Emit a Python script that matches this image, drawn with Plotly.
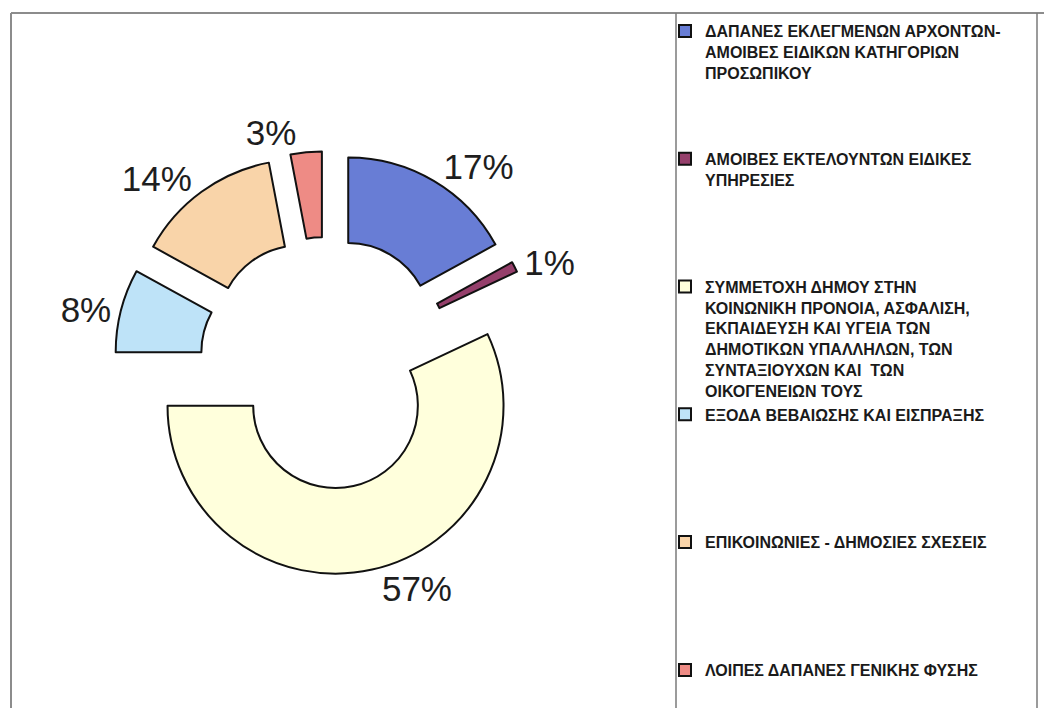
import plotly.graph_objects as go

# ---- data ----
labels = [
    "ΔΑΠΑΝΕΣ ΕΚΛΕΓΜΕΝΩΝ ΑΡΧΟΝΤΩΝ-<br>ΑΜΟΙΒΕΣ ΕΙΔΙΚΩΝ ΚΑΤΗΓΟΡΙΩΝ<br>ΠΡΟΣΩΠΙΚΟΥ",
    "ΑΜΟΙΒΕΣ ΕΚΤΕΛΟΥΝΤΩΝ ΕΙΔΙΚΕΣ<br>ΥΠΗΡΕΣΙΕΣ",
    "ΣΥΜΜΕΤΟΧΗ ΔΗΜΟΥ ΣΤΗΝ<br>ΚΟΙΝΩΝΙΚΗ ΠΡΟΝΟΙΑ, ΑΣΦΑΛΙΣΗ,<br>ΕΚΠΑΙΔΕΥΣΗ ΚΑΙ ΥΓΕΙΑ ΤΩΝ<br>ΔΗΜΟΤΙΚΩΝ ΥΠΑΛΛΗΛΩΝ, ΤΩΝ<br>ΣΥΝΤΑΞΙΟΥΧΩΝ ΚΑΙ  ΤΩΝ<br>ΟΙΚΟΓΕΝΕΙΩΝ ΤΟΥΣ",
    "ΕΞΟΔΑ ΒΕΒΑΙΩΣΗΣ ΚΑΙ ΕΙΣΠΡΑΞΗΣ",
    "ΕΠΙΚΟΙΝΩΝΙΕΣ - ΔΗΜΟΣΙΕΣ ΣΧΕΣΕΙΣ",
    "ΛΟΙΠΕΣ ΔΑΠΑΝΕΣ ΓΕΝΙΚΗΣ ΦΥΣΗΣ",
]
values = [17, 1, 57, 8, 14, 3]
colors = ["#687DD5", "#953F6B", "#FFFFDC", "#BEE3F8", "#F9D4A9", "#EE8B85"]

# pad legend entries (except the last) to equal height (6 lines each)
LINES = 6
legend_labels = []
for i, lab in enumerate(labels):
    n = lab.count("<br>") + 1
    pad = 0 if i == len(labels) - 1 else max(0, LINES - n)
    legend_labels.append("<b>" + lab + "</b>" + "<br>\u00a0" * pad)

W, H = 1052, 708
OFF = 8  # page body margin
def px(x):
    return (x - OFF) / W
def py(y):
    return 1 - (y - OFF) / H

cx, cy, r, pull = 326, 363, 168, 0.26
half = r * (1 + pull)

fig = go.Figure(go.Pie(
    labels=legend_labels,
    values=values,
    sort=False,
    direction="clockwise",
    rotation=0,
    hole=0.49,
    pull=[pull] * len(values),
    marker=dict(colors=colors, line=dict(color="#111111", width=2)),
    textinfo="percent",
    texttemplate="%{percent:.0%}",
    textposition="outside",
    textfont=dict(family="Liberation Sans, Arial, sans-serif", size=35, color="#1e1e1e"),
    domain=dict(x=[px(cx - half), px(cx + half)], y=[py(cy + half), py(cy - half)]),
    hoverinfo="label+percent",
))

frame_col = "#8c8c8c"
fig.update_layout(
    width=W, height=H,
    margin=dict(l=0, r=0, t=0, b=0, autoexpand=False),
    paper_bgcolor="white",
    plot_bgcolor="white",
    showlegend=True,
    legend=dict(
        x=px(665), xanchor="left",
        y=py(14), yanchor="top",
        valign="top",
        bgcolor="rgba(0,0,0,0)",
        borderwidth=0,
        font=dict(family="Liberation Sans, Arial, sans-serif", size=16, color="#1a1a1a"),
        traceorder="normal",
        tracegroupgap=0,
    ),
    shapes=[
        dict(type="line", xref="paper", yref="paper", x0=px(11), x1=1, y0=py(13), y1=py(13),
             line=dict(color=frame_col, width=2)),
        dict(type="line", xref="paper", yref="paper", x0=px(11), x1=px(11), y0=py(13), y1=0,
             line=dict(color=frame_col, width=2)),
        dict(type="line", xref="paper", yref="paper", x0=px(676), x1=px(676), y0=py(13), y1=0,
             line=dict(color="#7a7a7a", width=1.5)),
        dict(type="line", xref="paper", yref="paper", x0=px(1037), x1=px(1037), y0=py(13), y1=0,
             line=dict(color="#7a7a7a", width=1.5)),
    ],
)

fig.write_html("out.html")
